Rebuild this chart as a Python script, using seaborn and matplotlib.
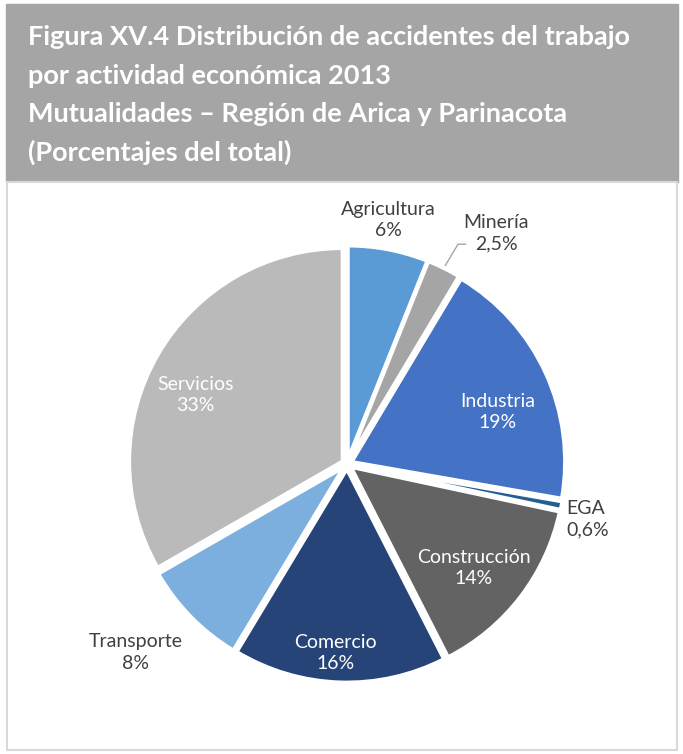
import numpy as np
import matplotlib
matplotlib.use("Agg")
import matplotlib.pyplot as plt
import seaborn as sns
from matplotlib.patches import Rectangle

sns.set_theme(style="white")
plt.rcParams['font.family'] = ['Lato', 'DejaVu Sans']

categories = ["Agricultura", "Minería", "Industria", "EGA", "Construcción",
              "Comercio", "Transporte", "Servicios"]
values = [6, 2.5, 19, 0.6, 14, 16, 8, 33]
value_labels = ["6%", "2,5%", "19%", "0,6%", "14%", "16%", "8%", "33%"]
colors = ["#5B9BD5", "#A5A5A5", "#4472C4", "#255E91", "#636363",
          "#264478", "#7CAFDD", "#BABABA"]
inside = [False, False, True, False, True, True, False, True]
# label placement: radius and angular nudge (degrees) from the wedge middle
label_r = [1.16, 1.28, 0.75, 1.2, 0.77, 0.89, 1.33, 0.78]
label_da = [1.3, 0, -5.5, 0, -2.0, -1.6, -2.7, 5.6]
title_lines = ["Figura XV.4 Distribución de accidentes del trabajo",
               "por actividad económica 2013",
               "Mutualidades – Región de Arica y Parinacota",
               "(Porcentajes del total)"]

W, H = 683, 754
fig = plt.figure(figsize=(W / 100, H / 100), dpi=100)

# header box and frame
fig.patches.append(Rectangle((6 / W, 1 - 182 / H), 672 / W, 178 / H,
                             transform=fig.transFigure, color="#A5A5A5", zorder=-2))
fig.patches.append(Rectangle((7 / W, 1 - 750 / H), 670 / W, 568 / H,
                             transform=fig.transFigure, facecolor="white",
                             edgecolor="#D9D9D9", lw=1.5, zorder=-2))
for i, line in enumerate(title_lines):
    fig.text(28 / W, 1 - (45 + 38.5 * i) / H, line, color="white", fontsize=19.5,
             fontweight="bold", va="baseline", ha="left")

cx, cy, R = 347, 464, 213
span = 1.6
aw = 2 * span * R
ax = fig.add_axes([(cx - aw / 2) / W, (H - cy - aw / 2) / H, aw / W, aw / H])
ax.set_zorder(5)
ax.patch.set_alpha(0)

wedges, _ = ax.pie(values, colors=colors, startangle=90, counterclock=False,
                   explode=[0.025] * len(values),
                   wedgeprops=dict(edgecolor="white", linewidth=2.5))
ax.set_xlim(-span, span)
ax.set_ylim(-span, span)
ax.set_aspect("equal")
ax.axis("off")

fs = 14
for w, cat, lab, ins, r, da in zip(wedges, categories, value_labels, inside,
                                   label_r, label_da):
    mid = (w.theta1 + w.theta2) / 2
    ang = np.deg2rad(mid + da)
    x, y = r * np.cos(ang), r * np.sin(ang)
    col = "white" if ins else "#404040"
    if cat == "Minería":
        ex, ey = 1.04 * np.cos(ang), 1.04 * np.sin(ang)
        ax.plot([ex, ex + 0.06, ex + 0.095], [ey, ey + 0.1, ey + 0.1],
                color="#A5A5A5", lw=1)
        ax.text(ex + 0.24, ey + 0.15, f"{cat}\n{lab}", ha="center", va="center",
                color=col, fontsize=fs, linespacing=1.3)
        continue
    if cat == "EGA":
        ax.text(1.03, -0.26, f"{cat}\n{lab}", ha="left", va="center", color=col,
                fontsize=fs, linespacing=1.3)
        continue
    ax.text(x, y, f"{cat}\n{lab}", ha="center", va="center", color=col,
            fontsize=fs, linespacing=1.3)

fig.savefig("out.png", dpi=100)
